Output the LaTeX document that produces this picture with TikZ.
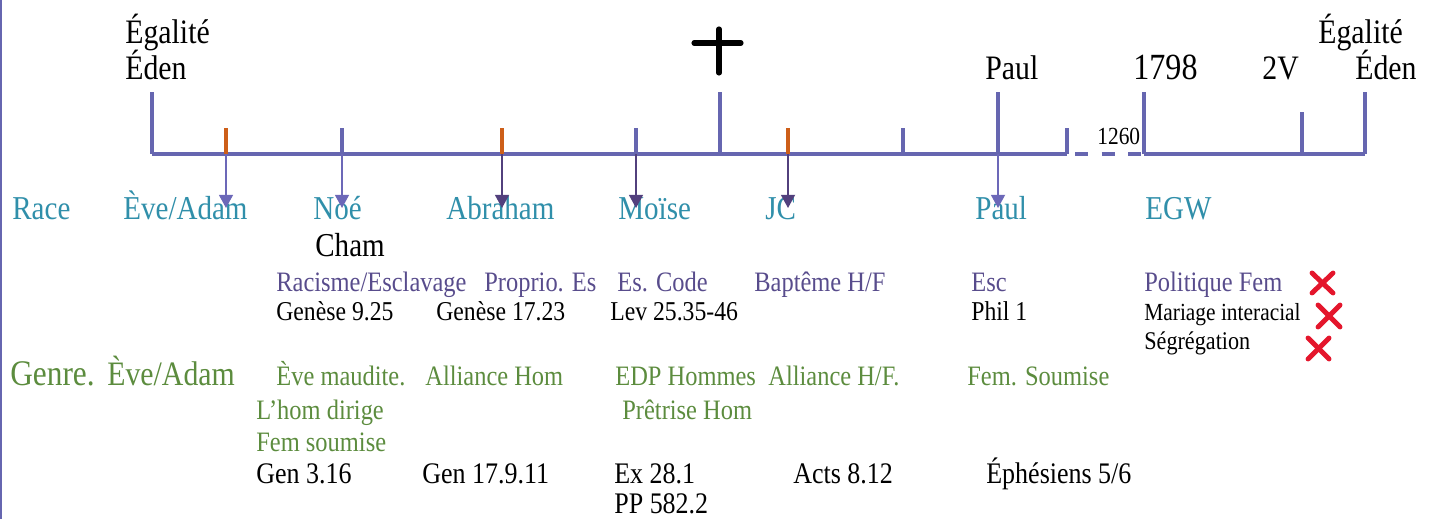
\documentclass[tikz,border=0pt]{standalone}
\usepackage{fontspec}
\setmainfont[FakeStretch=0.87]{Liberation Serif}
\usetikzlibrary{arrows.meta}
\definecolor{barcol}{RGB}{102,102,176}
\definecolor{orangecol}{RGB}{205,95,25}
\definecolor{racecol}{RGB}{48,143,170}
\definecolor{purpcol}{RGB}{88,76,140}
\definecolor{greencol}{RGB}{92,140,62}
\definecolor{darkarr}{RGB}{82,64,125}
\definecolor{lightarr}{RGB}{108,104,184}
\definecolor{redx}{RGB}{228,22,44}

\begin{document}
\begin{tikzpicture}[x=0.02cm,y=-0.02cm,
	bar/.style={color=barcol,line width=2.3pt},
	tick/.style={color=barcol,line width=1.8pt},
	otick/.style={color=orangecol,line width=1.8pt},
	darrow/.style={color=darkarr,line width=0.9pt,-{Triangle[length=7.5pt,width=8pt]}},
	larrow/.style={color=lightarr,line width=0.9pt,-{Triangle[length=7.5pt,width=8pt]}},
	lbl/.style={anchor=base west,inner sep=0pt},
	big/.style={lbl,font=\fontsize{19.5}{20}\selectfont},
	race/.style={lbl,color=racecol,font=\fontsize{19}{20}\selectfont},
	mid/.style={lbl,font=\fontsize{15.5}{16}\selectfont},
	refs/.style={lbl,font=\fontsize{17}{18}\selectfont},
	genre/.style={lbl,color=greencol,font=\fontsize{16}{17}\selectfont},
	cross/.style={color=redx,line width=2.8pt,line cap=round}]
	\useasboundingbox (0,0) rectangle (1435,519);
	\draw[color=barcol,line width=1.2pt] (1,0) -- (1,519);

	\coordinate (start) at (152,154);
	\coordinate (tEve) at (226,154);
	\coordinate (tNoe) at (342,154);
	\coordinate (tAbr) at (502,154);
	\coordinate (tMoi) at (636,154);
	\coordinate (tCross) at (720,154);
	\coordinate (tJC) at (788,154);
	\coordinate (tMid) at (903,154);
	\coordinate (tPaul) at (998,154);
	\coordinate (gapL) at (1067,154);
	\coordinate (gapR) at (1144,154);
	\coordinate (t2V) at (1302,154);
	\coordinate (stop) at (1365,154);

	\draw[bar] (start) -- (gapL);
	\draw[bar,dash pattern=on 7.4pt off 7.8pt] (1075,154) -- (gapR);
	\draw[bar] (gapR) -- (stop);
	\draw[tick] (start) -- (152,92);
	\draw[otick] (tEve) -- (226,128);
	\draw[tick] (tNoe) -- (342,128);
	\draw[otick] (tAbr) -- (502,128);
	\draw[tick] (tMoi) -- (636,128);
	\draw[tick] (tCross) -- (720,92);
	\draw[otick] (tJC) -- (788,128);
	\draw[tick] (tMid) -- (903,128);
	\draw[tick] (tPaul) -- (998,92);
	\draw[tick] (gapL) -- (1067,128);
	\draw[tick] (gapR) -- (1144,92);
	\draw[tick] (t2V) -- (1302,112);
	\draw[tick] (stop) -- (1365,92);
	\node[lbl,font=\fontsize{14}{14}\selectfont] (n1260) at (1097,145) {1260};

	\draw[black,line width=2.9pt,line cap=round] (719,29) -- (719,73);
	\draw[black,line width=2.9pt,line cap=round] (694,43) -- (741,43);

	\node[big] (egal1) at (125,44) {Égalité};
	\node[big] (eden1) at (125,80) {Éden};
	\node[big] (paulT) at (985,80) {Paul};
	\node[big,font=\fontsize{21}{21}\selectfont] (y1798) at (1133,80) {1798};
	\node[big] (v2) at (1262,80) {2V};
	\node[big] (egal2) at (1318,44) {Égalité};
	\node[big] (eden2) at (1355,80) {Éden};

	\node[race] (race) at (12,220) {Race};
	\node[race] (eveR) at (123,220) {Ève/Adam};
	\node[race] (noe) at (313,220) {Noé};
	\node[race] (abraham) at (446,220) {Abraham};
	\node[race] (moise) at (618,220) {Moïse};
	\node[race] (jc) at (765,220) {JC};
	\node[race] (paulR) at (975,220) {Paul};
	\node[race] (egw) at (1145,220) {EGW};
	\node[big,font=\fontsize{19}{20}\selectfont] (cham) at (315,257) {Cham};

	\coordinate (aEve) at (226,208);
	\coordinate (aNoe) at (342,208);
	\coordinate (aAbr) at (502,208);
	\coordinate (aMoi) at (636,208);
	\coordinate (aJC) at (788,208);
	\coordinate (aPaul) at (998,208);
	\draw[larrow] (tEve) -- (aEve);
	\draw[larrow] (tNoe) -- (aNoe);
	\draw[darrow] (tAbr) -- (aAbr);
	\draw[darrow] (tMoi) -- (aMoi);
	\draw[darrow] (tJC) -- (aJC);
	\draw[larrow] (tPaul) -- (aPaul);

	\node[mid,color=purpcol,font=\fontsize{16}{17}\selectfont] (racisme) at (276,292) {Racisme/Esclavage};
	\node[mid,color=purpcol,font=\fontsize{16}{17}\selectfont] (proprio) at (484,292) {Proprio. Es};
	\node[mid,color=purpcol,font=\fontsize{16}{17}\selectfont] (code) at (617,292) {Es. Code};
	\node[mid,color=purpcol,font=\fontsize{16}{17}\selectfont] (bapteme) at (754,292) {Baptême H/F};
	\node[mid,color=purpcol,font=\fontsize{16}{17}\selectfont] (esc) at (971,292) {Esc};
	\node[mid,color=purpcol,font=\fontsize{16}{17}\selectfont] (politique) at (1144,292) {Politique Fem};

	\node[mid] (gen925) at (276,321) {Genèse 9.25};
	\node[mid] (gen1723) at (436,321) {Genèse 17.23};
	\node[mid] (lev) at (610,321) {Lev 25.35-46};
	\node[mid] (phil) at (971,321) {Phil 1};
	\node[mid,font=\fontsize{14}{15}\selectfont] (mariage) at (1144,321) {Mariage interacial};
	\node[mid,font=\fontsize{14.5}{15}\selectfont] (segreg) at (1144,350) {Ségrégation};

	\draw[cross] (1312,273) -- (1333,293);
	\draw[cross] (1333,273) -- (1312,293);
	\draw[cross] (1318,305) -- (1340,327);
	\draw[cross] (1340,305) -- (1318,327);
	\draw[cross] (1308,338) -- (1329,359);
	\draw[cross] (1329,338) -- (1308,359);

	\node[genre,font=\fontsize{20.5}{21}\selectfont] (genreT) at (10,386) {Genre.};
	\node[genre,font=\fontsize{19.5}{20}\selectfont] (eveG) at (107,386) {Ève/Adam};
	\node[genre] (maudite) at (276,386) {Ève maudite.};
	\node[genre] (allHom) at (425,386) {Alliance Hom};
	\node[genre] (edp) at (615,386) {EDP Hommes};
	\node[genre] (allHF) at (768,386) {Alliance H/F.};
	\node[genre] (soumise) at (967,386) {Fem. Soumise};
	\node[genre] (dirige) at (256,420) {L’hom dirige};
	\node[genre] (pretrise) at (622,420) {Prêtrise Hom};
	\node[genre] (femsou) at (256,452) {Fem soumise};

	\node[refs] (gen316) at (256,483) {Gen 3.16};
	\node[refs] (gen1791) at (422,483) {Gen 17.9.11};
	\node[refs] (ex281) at (614,483) {Ex 28.1};
	\node[refs] (acts) at (793,483) {Acts 8.12};
	\node[refs] (ephes) at (986,483) {Éphésiens 5/6};
	\node[refs] (pp582) at (614,513) {PP 582.2};
\end{tikzpicture}
\end{document}
